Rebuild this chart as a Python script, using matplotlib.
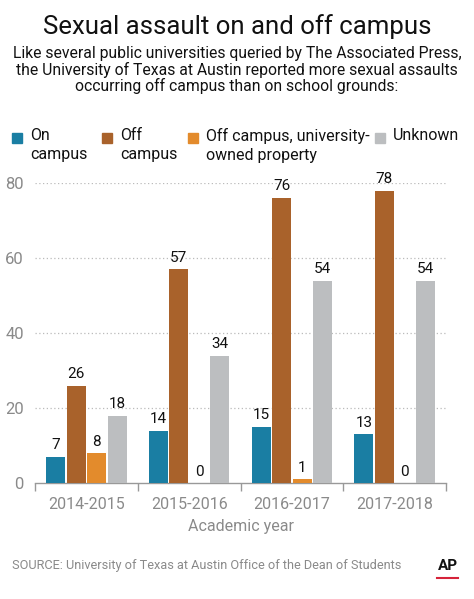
import matplotlib.pyplot as plt
from matplotlib.patches import Rectangle
from matplotlib.lines import Line2D

plt.rcParams['font.family'] = ['Roboto', 'DejaVu Sans']

years = ['2014-2015', '2015-2016', '2016-2017', '2017-2018']
series_names = ['On\ncampus', 'Off\ncampus', 'Off campus, university-\nowned property', 'Unknown']
on_campus = [7, 14, 15, 13]
off_campus = [26, 57, 76, 78]
off_univ = [8, 0, 1, 0]
unknown = [18, 34, 54, 54]
colors = ['#1a7ea3', '#a9622b', '#e38b2c', '#bcbec0']

W, H = 474, 599
fig = plt.figure(figsize=(W / 100, H / 100), dpi=100)
ax = fig.add_axes([35 / W, 1 - 483 / H, 411 / W, 300 / H])

series = [on_campus, off_campus, off_univ, unknown]
offsets = [-0.3, -0.1, 0.1, 0.3]
for vals, off, c in zip(series, offsets, colors):
    xs = [i + off for i in range(len(years))]
    ax.bar(xs, vals, width=0.185, color=c, zorder=3)
    for x, v in zip(xs, vals):
        ax.text(x, v + 1.2, str(v), ha='center', va='bottom', fontsize=11,
                color='#111111', clip_on=False)

ax.set_xlim(-0.5, 3.5)
ax.set_ylim(0, 80)
ax.set_yticks([0, 20, 40, 60, 80])
for y in [20, 40, 60, 80]:
    ax.axhline(y, color='#bbbbbb', lw=0.9, ls=(0, (1, 2)), zorder=1)
ax.tick_params(axis='y', length=0, labelsize=12, labelcolor='#8a8a8a', pad=8)
ax.set_xticks([-0.5, 0.5, 1.5, 2.5, 3.5])
ax.set_xticklabels([])
ax.set_xticks(range(4), minor=True)
ax.set_xticklabels(years, minor=True)
ax.tick_params(axis='x', which='major', length=6, width=1, color='#999999', direction='out')
ax.tick_params(axis='x', which='minor', length=0, labelsize=11.5, labelcolor='#8a8a8a', pad=10)
for s in ['top', 'right', 'left']:
    ax.spines[s].set_visible(False)
ax.spines['bottom'].set_color('#999999')
ax.spines['bottom'].set_linewidth(1)
ax.set_xlabel('Academic year', fontsize=11.5, color='#8a8a8a', labelpad=5)

fig.text(0.5, 1 - 27 / H, 'Sexual assault on and off campus', ha='center', va='center',
         fontsize=18.5, color='#111111')
fig.text(0.5, 1 - 70 / H,
         'Like several public universities queried by The Associated Press,\n'
         'the University of Texas at Austin reported more sexual assaults\n'
         'occurring off campus than on school grounds:',
         ha='center', va='center', fontsize=11.3, color='#111111', linespacing=1.05)

leg_x = [12, 102, 188, 375]
for x0, name, c in zip(leg_x, series_names, colors):
    fig.patches.append(Rectangle((x0 / W, 1 - 143 / H), 10 / W, 10 / H,
                                 transform=fig.transFigure, color=c))
    fig.text((x0 + 18) / W, 1 - 128 / H, name, ha='left', va='top', fontsize=11.5,
             color='#111111', linespacing=1.3)

fig.text(12 / W, 1 - 566 / H, 'SOURCE: University of Texas at Austin Office of the Dean of Students',
         ha='left', va='center', fontsize=9.2, color='#8a8a8a')
fig.text(448 / W, 1 - 566 / H, 'AP', ha='center', va='center', fontsize=11,
         fontweight='bold', color='#111111')
fig.lines.append(Line2D([437 / W, 458 / W], [1 - 578 / H, 1 - 578 / H],
                        transform=fig.transFigure, color='#d6233a', lw=1.5))

fig.savefig('out.png', dpi=100)
